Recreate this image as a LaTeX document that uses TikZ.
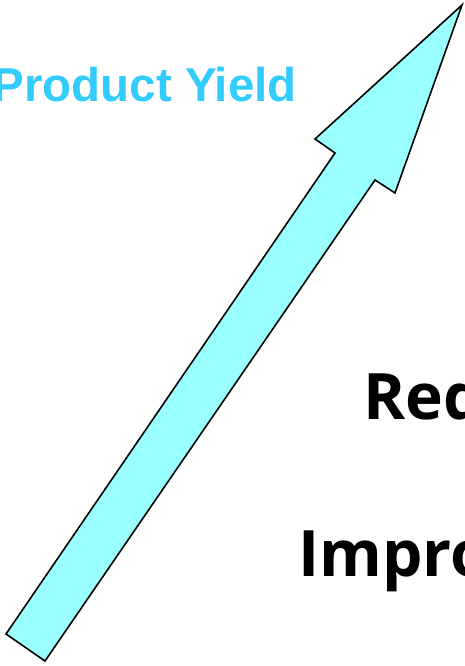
\documentclass[tikz,border=0pt]{standalone}
\usepackage{fontspec}
\setmainfont{Liberation Sans}
\newfontfamily\opensans{Open Sans}
\usepackage{xcolor}
\definecolor{yieldblue}{RGB}{51,204,255}
\definecolor{arrowcyan}{RGB}{153,255,255}

\begin{document}
\begin{tikzpicture}[x=1pt,y=-1pt]
      \useasboundingbox (0,0) rectangle (464,666);
      \clip (0,0) rectangle (464,666);
      \draw [fill=arrowcyan, line width=1.6pt, line join=miter]
        (6,634) -- (335,153) -- (315,139) -- (462,5) -- (395,193) -- (375,180) -- (45,661) -- cycle;
      \node [anchor=base east, inner sep=0pt, text=yieldblue, font=\fontsize{47.5}{47.5}\selectfont\bfseries] (yield) at (297,102) {Product Yield};
      \node [anchor=base west, inner sep=0pt, font=\opensans\fontsize{64}{64}\selectfont\bfseries] (red) at (363,419) {Red};
      \node [anchor=base west, inner sep=0pt, font=\opensans\fontsize{64}{64}\selectfont\bfseries] (impro) at (298,576) {Impro};
    \end{tikzpicture}
\end{document}
